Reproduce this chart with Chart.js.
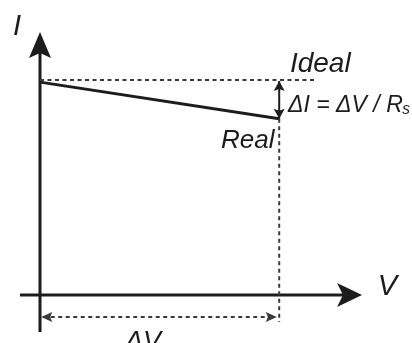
<!DOCTYPE html>
<html>
<head>
<meta charset="utf-8">
<script src="https://cdn.jsdelivr.net/npm/chart.js@4/dist/chart.umd.min.js"></script>
<style>
html,body{margin:0;padding:0;background:#fff;}
#c{display:block;}
</style>
</head>
<body>
<canvas id="c" width="412" height="343"></canvas>
<script>
// ---- data (V in arbitrary units, I in arbitrary units) ----
const idealV = [0, 11.64];
const idealI = [10, 10];
const realV = [0, 10.05];
const realI = [9.9, 8.2];
const vAxisV = [-0.84, 13.53];
const vAxisI = [0, 0];
const iAxisV = [0, 0];
const iAxisI = [-1.72, 12.23];
const dropV = [10.05, 10.05];
const dropI = [8.2, -1.26];
const deltaVSpan = [0.05, 9.95];
const deltaVLevel = -1.02;
const deltaISpan = [9.95, 8.2];
const deltaIAt = 10.05;
const labels = ['I', 'V', 'Ideal', 'Real', 'ΔI = ΔV / R', 'ΔV'];
const subscript = 's';

const pts = (xs, ys) => xs.map((x, i) => ({x, y: ys[i]}));
const ink = '#1c1c1c';
const dot = '#3a3a3a';

const labelPos = {
  'I':     {x: -0.97, y: 12.09, align: 'center', size: 29},
  'V':     {x: 14.6, y: 0, align: 'center', size: 29},
  'Ideal': {x: 10.5, y: 10.37, align: 'left', size: 28},
  'Real':  {x: 9.85, y: 6.84, align: 'right', size: 26},
  'ΔI = ΔV / R': {x: 10.42, y: 8.51, align: 'left', size: 24, sx: 0.96, sub: true},
  'ΔV':    {x: 4.33, y: -2.56, align: 'center', size: 27}
};

function head(ctx, tx, ty, dx, dy, len, half, notch) {
  const px = -dy, py = dx;
  ctx.beginPath();
  ctx.moveTo(tx, ty);
  ctx.lineTo(tx - dx*len + px*half, ty - dy*len + py*half);
  ctx.lineTo(tx - dx*(len-notch), ty - dy*(len-notch));
  ctx.lineTo(tx - dx*len - px*half, ty - dy*len - py*half);
  ctx.closePath();
  ctx.fill();
}

const decor = {
  id: 'decor',
  afterDatasetsDraw(chart) {
    const ctx = chart.ctx, xs = chart.scales.x, ys = chart.scales.y;
    const X = v => xs.getPixelForValue(v), Y = v => ys.getPixelForValue(v);
    ctx.save();
    ctx.fillStyle = ink;
    head(ctx, X(iAxisV[1]), Y(iAxisI[1]), 0, -1, 26, 11, 5);
    head(ctx, X(vAxisV[1]), Y(vAxisI[1]), 1, 0, 25, 12, 6);
    head(ctx, X(deltaIAt), Y(deltaISpan[0]), 0, -1, 10, 5.5, 2);
    head(ctx, X(deltaIAt), Y(deltaISpan[1]), 0, 1, 10, 5.5, 2);
    ctx.fillStyle = dot;
    head(ctx, X(deltaVSpan[0]), Y(deltaVLevel), -1, 0, 11, 5, 2);
    head(ctx, X(deltaVSpan[1]), Y(deltaVLevel), 1, 0, 11, 5, 2);
    ctx.fillStyle = ink;
    ctx.textBaseline = 'alphabetic';
    labels.forEach(t => {
      const p = labelPos[t];
      ctx.save();
      ctx.font = 'italic ' + p.size + 'px "Liberation Sans", Arial, sans-serif';
      ctx.textAlign = p.align;
      ctx.translate(X(p.x), Y(p.y));
      ctx.scale(p.sx || 1, 1);
      ctx.fillText(t, 0, 0);
      if (p.sub) {
        const w = ctx.measureText(t).width;
        ctx.font = 'italic ' + Math.round(p.size * 0.66) + 'px "Liberation Sans", Arial, sans-serif';
        ctx.fillText(subscript, w - 0.5, 1.5);
      }
      ctx.restore();
    });
    ctx.restore();
  }
};

const line = (data, color, width, dash) => ({
  data, showLine: true, borderColor: color, borderWidth: width,
  borderDash: dash || [], pointRadius: 0, fill: false, tension: 0,
  borderCapStyle: 'butt'
});

new Chart(document.getElementById('c'), {
  type: 'scatter',
  data: {
    datasets: [
      line(pts(idealV, idealI), dot, 2, [4, 3.5]),
      line(pts(dropV, dropI), dot, 2, [4, 3.5]),
      line(pts(deltaVSpan.map(v => v + (v < 5 ? 0.4 : -0.4)), [deltaVLevel, deltaVLevel]), dot, 2, [4, 3.5]),
      line(pts([deltaIAt, deltaIAt], deltaISpan), ink, 2),
      line(pts(vAxisV.map((v, i) => i ? v - 0.6 : v), vAxisI), ink, 3),
      line(pts(iAxisV, iAxisI.map((v, i) => i ? v - 0.6 : v)), ink, 3),
      line(pts(realV, realI), ink, 3)
    ]
  },
  options: {
    responsive: false,
    devicePixelRatio: 1,
    animation: false,
    layout: {padding: 0},
    plugins: {legend: {display: false}, tooltip: {enabled: false}},
    scales: {
      x: {type: 'linear', display: false, min: -1.681, max: 15.63},
      y: {type: 'linear', display: false, min: -2.233, max: 13.72}
    }
  },
  plugins: [decor]
});
</script>
</body>
</html>
